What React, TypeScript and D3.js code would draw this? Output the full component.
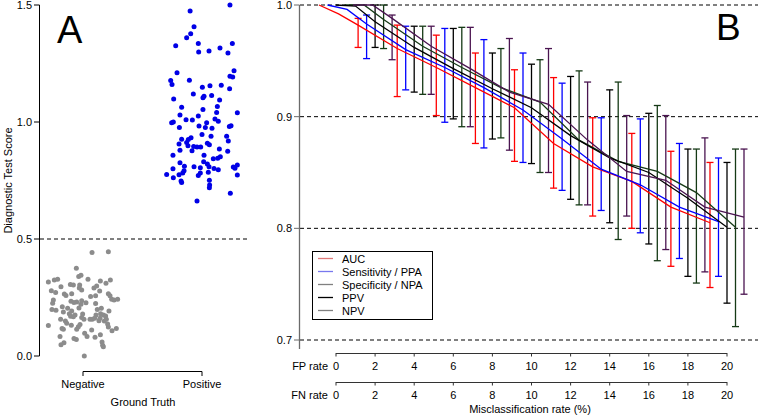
import React from "react"
import * as d3 from "d3"

// ---------- panel A: scores by ground truth (jitter = offset from category centre) ----------
const groups = ["Negative", "Positive"]
const negScores = [0.442,0.446,0.375,0.328,0.316,0.325,0.328,0.340,0.345,0.282,0.291,0.303,0.279,0.271,0.296,0.265,0.259,0.266,0.306,0.303,0.291,0.299,0.311,0.325,0.321,0.278,0.266,0.258,0.242,0.239,0.242,0.239,0.225,0.199,0.195,0.211,0.188,0.204,0.234,0.229,0.231,0.205,0.236,0.221,0.228,0.254,0.258,0.224,0.199,0.181,0.175,0.171,0.192,0.204,0.175,0.161,0.151,0.150,0.157,0.157,0.157,0.161,0.192,0.181,0.175,0.170,0.168,0.165,0.157,0.179,0.157,0.150,0.140,0.131,0.125,0.135,0.130,0.118,0.114,0.083,0.048,0.057,0.075,0.071,0.097,0.083,0.080,0.091,0.124,0.108,0.118,0.137,0.060,0.046,0.040,0.111,0.114,0.000]
const negJitter = [0.076,0.213,-0.056,0.042,-0.291,-0.241,-0.213,-0.036,-0.017,-0.011,-0.031,-0.028,-0.266,-0.230,-0.185,-0.157,-0.143,-0.095,-0.106,-0.081,0.092,0.115,0.193,0.230,0.146,0.140,0.213,0.227,0.241,0.261,0.291,-0.249,-0.255,-0.261,-0.227,-0.174,-0.165,-0.129,-0.101,-0.076,-0.053,-0.034,-0.011,-0.017,0.025,0.064,0.106,0.106,0.120,0.148,0.171,0.190,0.218,0.154,0.109,0.143,0.134,0.179,0.196,0.059,0.078,0.098,-0.095,-0.115,-0.067,-0.104,-0.081,-0.011,0.008,-0.003,-0.188,-0.148,-0.137,-0.098,-0.039,-0.025,-0.291,-0.176,-0.165,-0.193,-0.185,-0.160,-0.076,-0.056,0.014,0.034,0.101,0.146,0.213,0.244,0.280,0.207,0.160,0.165,0.171,0.073,-0.053,0.011]
const posScores = [1.50,1.474,1.407,1.377,1.360,1.326,1.336,1.316,1.336,1.299,1.303,1.295,1.211,1.219,1.177,1.160,1.178,1.148,1.155,1.157,1.195,1.192,1.142,1.120,1.110,1.104,1.113,1.098,1.094,1.063,1.066,1.053,1.030,1.041,0.997,1.000,1.010,1.009,1.026,0.997,1.013,1.003,1.040,0.984,0.981,0.983,0.976,0.973,0.976,0.926,0.925,0.933,0.906,0.912,0.899,0.895,0.893,0.947,0.939,0.939,0.919,0.903,0.893,0.909,0.879,0.877,0.885,0.858,0.826,0.858,0.843,0.852,0.845,0.875,0.830,0.821,0.811,0.809,0.805,0.809,0.796,0.808,0.816,0.802,0.776,0.762,0.775,0.782,0.792,0.771,0.782,0.785,0.801,0.774,0.748,0.741,0.751,0.731,0.719,0.695,0.662,0.800]
const posJitter = [0.235,-0.10,-0.067,-0.095,-0.129,-0.221,-0.031,0.151,0.255,-0.028,0.059,0.218,-0.210,0.269,-0.263,-0.252,-0.106,0.003,0.067,0.162,0.235,0.258,0.232,-0.073,0.017,0.008,0.081,-0.238,0.148,-0.171,0.129,0.008,-0.185,0.123,-0.255,-0.241,-0.134,-0.081,-0.031,0.039,0.109,0.137,0.297,0.244,0.230,-0.025,0.028,0.084,-0.190,-0.171,-0.115,-0.092,-0.193,-0.129,-0.118,-0.070,-0.042,0.0,0.076,0.207,0.221,0.062,-0.011,0.045,-0.185,-0.084,0.146,-0.244,-0.185,0.017,0.095,0.154,0.132,0.216,0.014,0.045,-0.148,-0.067,-0.014,0.059,0.137,0.263,0.297,0.277,-0.297,-0.241,-0.193,-0.162,-0.151,-0.031,-0.014,0.053,0.101,0.297,-0.176,-0.171,0.062,0.064,0.062,0.238,-0.042,-0.244]
const scoreTicks = [0, 0.5, 1.0, 1.5]
const threshold = 0.5

// ---------- panel B: metrics vs misclassification rate ----------
const rates = [0, 1, 2, 4, 6, 8, 10, 12, 14, 16, 18, 20]
const aucMean = [1.0, 0.992, 0.982, 0.961, 0.944, 0.926, 0.908, 0.876, 0.855, 0.842, 0.819, 0.805]
const sensMean = [1.0, 0.996, 0.983, 0.960, 0.944, 0.926, 0.906, 0.880, 0.853, 0.839, 0.819, 0.806]
const specMean = [1.0, 1.0, 0.987, 0.963, 0.944, 0.926, 0.913, 0.879, 0.860, 0.851, 0.832, 0.801]
const ppvMean = [1.0, 0.999, 0.985, 0.962, 0.943, 0.925, 0.908, 0.883, 0.863, 0.850, 0.827, 0.801]
const npvMean = [1.0, 1.0, 0.988, 0.963, 0.943, 0.922, 0.911, 0.879, 0.851, 0.843, 0.819, 0.810]

const ciRates = [2, 4, 6, 8, 10, 12, 14, 16, 18, 20]
const aucLo = [0.962, 0.918, 0.901, 0.876, 0.860, 0.836, 0.811, 0.800, 0.766, 0.747]
const aucHi = [0.988, 0.982, 0.973, 0.957, 0.942, 0.935, 0.899, 0.885, 0.869, 0.859]
const sensLo = [0.952, 0.924, 0.895, 0.872, 0.859, 0.834, 0.816, 0.796, 0.773, 0.757]
const sensHi = [0.991, 0.981, 0.979, 0.969, 0.957, 0.930, 0.899, 0.898, 0.876, 0.863]
const specLo = [0.961, 0.920, 0.891, 0.881, 0.850, 0.821, 0.790, 0.771, 0.751, 0.712]
const specHi = [1.0, 0.981, 0.980, 0.961, 0.951, 0.941, 0.931, 0.910, 0.871, 0.871]
const ppvLo = [0.962, 0.922, 0.898, 0.880, 0.858, 0.826, 0.805, 0.786, 0.757, 0.733]
const ppvHi = [1.0, 0.981, 0.979, 0.957, 0.947, 0.936, 0.924, 0.903, 0.871, 0.859]
const npvLo = [0.951, 0.920, 0.891, 0.870, 0.850, 0.821, 0.811, 0.781, 0.761, 0.741]
const npvHi = [0.991, 0.981, 0.980, 0.970, 0.961, 0.931, 0.901, 0.901, 0.881, 0.871]

const metricTicks = [0.7, 0.8, 0.9, 1.0]
const rateTicks = [0, 2, 4, 6, 8, 10, 12, 14, 16, 18, 20]

const series = [
  { name: "AUC", mean: aucMean, lo: aucLo, hi: aucHi, color: "#ff0000", legend: "#e07a7a", dodge: -17 },
  { name: "Sensitivity / PPA", mean: sensMean, lo: sensLo, hi: sensHi, color: "#0000ff", legend: "#7878ee", dodge: -8.5 },
  { name: "Specificity / NPA", mean: specMean, lo: specLo, hi: specHi, color: "#163a16", legend: "#808080", dodge: 8.5 },
  { name: "PPV", mean: ppvMean, lo: ppvLo, hi: ppvHi, color: "#000000", legend: "#000000", dodge: 0 },
  { name: "NPV", mean: npvMean, lo: npvLo, hi: npvHi, color: "#4a1450", legend: "#808080", dodge: 17 },
]

const FONT = "'Liberation Sans', Arial, Helvetica, sans-serif"

export default function App() {
  // panel A scales
  const yA = d3.scaleLinear().domain([0, 1.5]).range([356, 5])
  const xA = d3.scaleLinear().domain([1, 2]).range([83, 202])

  // panel B scales
  const yB = d3.scaleLinear().domain([0.7, 1.0]).range([340, 5])
  const xB = d3.scaleLinear().domain([0, 20]).range([336, 727])

  const negPts = negScores.map((v, i) => ({ x: 1 + negJitter[i], y: v }))
  const posPts = posScores.map((v, i) => ({ x: 2 + posJitter[i], y: v }))

  const legendOrder = ["AUC", "Sensitivity / PPA", "Specificity / NPA", "PPV", "NPV"]

  return (
    <svg width={758} height={416} style={{ position: "absolute", left: 0, top: 0, background: "#fff" }} fontFamily={FONT}>
      {/* ===== Panel A ===== */}
      <line x1={39.5} x2={39.5} y1={yA(0)} y2={yA(1.5)} stroke="#000" />
      {scoreTicks.map(t => (
        <g key={t}>
          <line x1={34} x2={39.5} y1={yA(t)} y2={yA(t)} stroke="#000" />
          <text x={32} y={yA(t) + 4} fontSize={11} textAnchor="end">{t.toFixed(1)}</text>
        </g>
      ))}
      <text transform={`translate(12,${yA(0.75)}) rotate(-90)`} fontSize={11} textAnchor="middle">Diagnostic Test Score</text>
      <line x1={40} x2={248} y1={yA(threshold)} y2={yA(threshold)} stroke="#000" strokeDasharray="4,3" />

      {negPts.map((p, i) => (
        <circle key={"n" + i} cx={xA(p.x)} cy={yA(p.y)} r={2.5} fill="#8c8c8c" />
      ))}
      {posPts.map((p, i) => (
        <circle key={"p" + i} cx={xA(p.x)} cy={yA(p.y)} r={2.5} fill="#0000e6" />
      ))}

      <path d={`M${xA(1)},376V371.5H${xA(2)}V376`} fill="none" stroke="#000" />
      {groups.map((g, i) => (
        <text key={g} x={xA(i + 1)} y={388} fontSize={11} textAnchor="middle">{g}</text>
      ))}
      <text x={143} y={406} fontSize={11} textAnchor="middle">Ground Truth</text>
      <text x={57} y={43} fontSize={38}>A</text>

      {/* ===== Panel B ===== */}
      {metricTicks.map(t => (
        <line key={"g" + t} x1={300} x2={758} y1={yB(t)} y2={yB(t)} stroke="#000" strokeDasharray="4,3" />
      ))}
      <line x1={299.5} x2={299.5} y1={yB(1.0)} y2={349} stroke="#6b6b6b" strokeWidth={1.3} />
      {metricTicks.map(t => (
        <g key={"t" + t}>
          <line x1={294} x2={299.5} y1={yB(t)} y2={yB(t)} stroke="#6b6b6b" />
          <text x={292} y={yB(t) + 4} fontSize={11} textAnchor="end">{t.toFixed(1)}</text>
        </g>
      ))}

      {series.map(s => (
        <g key={"eb" + s.name} stroke={s.color} strokeWidth={1.3}>
          {ciRates.map((r, i) => {
            const cx = xB(r) + s.dodge
            return (
              <g key={r}>
                <line x1={cx} x2={cx} y1={yB(s.lo[i])} y2={yB(s.hi[i])} />
                <line x1={cx - 3.5} x2={cx + 3.5} y1={yB(s.lo[i])} y2={yB(s.lo[i])} />
                <line x1={cx - 3.5} x2={cx + 3.5} y1={yB(s.hi[i])} y2={yB(s.hi[i])} />
              </g>
            )
          })}
        </g>
      ))}

      {series.map(s => {
        const line = d3.line<number>()
          .x((_, i) => xB(rates[i]) + s.dodge)
          .y(d => yB(d))
        return <path key={"ln" + s.name} d={line(s.mean) || ""} fill="none" stroke={s.color} strokeWidth={1.3} />
      })}

      {/* legend */}
      <rect x={312.5} y={251.5} width={120} height={68} fill="#fff" stroke="#000" />
      {legendOrder.map((name, i) => {
        const s = series.find(d => d.name === name)!
        const y = 258.5 + i * 13
        return (
          <g key={"lg" + name}>
            <line x1={318} x2={333} y1={y} y2={y} stroke={s.legend} strokeWidth={1.3} />
            <text x={342} y={y + 4} fontSize={11}>{name}</text>
          </g>
        )
      })}

      {/* FP / FN rate axes */}
      {[
        { label: "FP rate", y: 353 },
        { label: "FN rate", y: 382 },
      ].map(ax => (
        <g key={ax.label}>
          <line x1={xB(0)} x2={xB(20)} y1={ax.y + 0.5} y2={ax.y + 0.5} stroke="#333" />
          {rateTicks.map(t => (
            <g key={t}>
              <line x1={xB(t)} x2={xB(t)} y1={ax.y} y2={ax.y + 3.5} stroke="#333" />
              <text x={xB(t)} y={ax.y + 17} fontSize={11} textAnchor="middle">{t}</text>
            </g>
          ))}
          <text x={328} y={ax.y + 17} fontSize={11} textAnchor="end">{ax.label}</text>
        </g>
      ))}
      <text x={530} y={413} fontSize={11} textAnchor="middle">Misclassification rate (%)</text>
      <text x={716} y={40} fontSize={37}>B</text>
    </svg>
  )
}
